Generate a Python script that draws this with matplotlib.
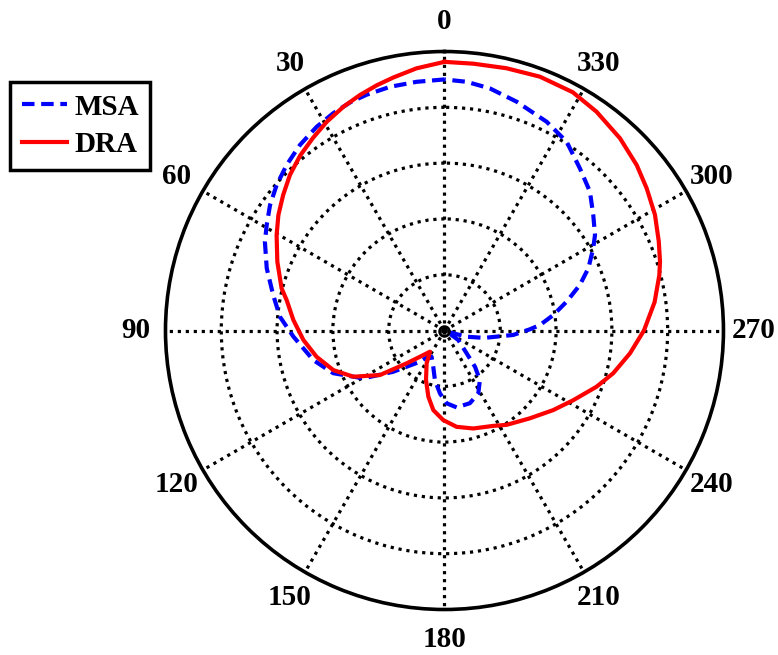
import numpy as np
from matplotlib import pyplot as plt

plt.rcParams['font.family'] = ['Liberation Serif', 'DejaVu Serif']
plt.rcParams['font.weight'] = 'bold'

# Normalised radiation patterns, angle in degrees (0 at top, counterclockwise)
dra_theta = [0, 6.1, 11.5, 15.4, 19.7, 24.3, 29.4, 34.3, 39.5, 44.8, 50.0,
             55.2, 60.4, 67.6, 75.5, 79.1, 86.0, 93.8, 101.6, 109.6, 116.9,
             124.6, 131.0, 136.9, 145.6, 151.5, 159.5, 166.3, 172.0, 179.2,
             187.2, 196.4, 207.1, 213.4, 224.2, 233.8, 241.6, 249.7, 255.8,
             263.0, 270.0, 277.7, 284.4, 287.7, 292.6, 298.8, 305.1, 310.7,
             317.6, 325.2, 331.7, 339.4, 346.7, 353.8, 360]
dra_r = [0.963, 0.945, 0.925, 0.912, 0.897, 0.880, 0.859, 0.836, 0.813, 0.786,
         0.755, 0.725, 0.692, 0.648, 0.603, 0.576, 0.543, 0.507, 0.468, 0.423,
         0.366, 0.281, 0.179, 0.129, 0.092, 0.134, 0.189, 0.244, 0.288, 0.321,
         0.348, 0.366, 0.384, 0.405, 0.439, 0.483, 0.525, 0.581, 0.624, 0.670,
         0.715, 0.760, 0.795, 0.811, 0.832, 0.861, 0.886, 0.909, 0.933, 0.955,
         0.970, 0.972, 0.966, 0.962, 0.963]

msa_theta = [0, 6.4, 12.6, 18.3, 22.4, 27.1, 32.1, 37.9, 43.6, 49.1, 54.3,
             59.3, 63.7, 70.7, 78.3, 85.2, 92.3, 102.7, 111.0, 120.5, 128.8,
             141.9, 148.0, 154.0, 162.8, 169.1, 175.9, 181.7, 189.0, 199.3,
             208.3, 215.6, 220.1, 224.2, 235.5, 245.0, 254.4, 259.5, 266.3,
             270.8, 273.3, 278.1, 283.3, 288.6, 293.4, 298.9, 302.4, 307.8,
             313.7, 320.1, 327.1, 333.9, 342.5, 349.4, 354.9, 360]
msa_r = [0.900, 0.897, 0.895, 0.890, 0.885, 0.875, 0.862, 0.843, 0.820, 0.796,
         0.770, 0.741, 0.718, 0.675, 0.627, 0.592, 0.542, 0.482, 0.427, 0.338,
         0.236, 0.142, 0.110, 0.105, 0.136, 0.181, 0.226, 0.261, 0.279, 0.276,
         0.256, 0.218, 0.170, 0.114, 0.060, 0.010, 0.083, 0.145, 0.247, 0.306,
         0.343, 0.394, 0.450, 0.512, 0.562, 0.609, 0.639, 0.675, 0.721, 0.757,
         0.806, 0.833, 0.860, 0.883, 0.895, 0.900]

angle_ticks = list(range(0, 360, 30))
angle_labels = [str(a) for a in angle_ticks]
ring_ticks = [0.2, 0.4, 0.6, 0.8]

fig = plt.figure(figsize=(7.78, 6.55), dpi=100)
ax = fig.add_axes([0.2127, 0.0694, 0.7172, 0.852], projection='polar')
ax.set_theta_zero_location('N')
ax.set_theta_direction(1)
ax.set_rlim(0, 1)

ax.plot(np.deg2rad(msa_theta), msa_r, color='#0000ff', lw=3,
        linestyle=(0, (3, 1.6)), label='MSA')
ax.plot(np.deg2rad(dra_theta), dra_r, color='#ff0000', lw=3, label='DRA')
# small ring at the origin, as in the original plot
ax.plot([0], [0], 'o', mfc='none', mec='black', ms=7, mew=2)

ax.set_thetagrids(angle_ticks, angle_labels)
ax.set_rticks(ring_ticks)
ax.set_yticklabels([])
ax.grid(True, color='black', linestyle=(0, (1, 1.5)), linewidth=2.3)
ax.spines['polar'].set_linewidth(2.6)
ax.tick_params(axis='x', pad=11, labelsize=21)
for lab in ax.get_xticklabels():
    lab.set_fontweight('bold')

leg = fig.legend(loc='upper left', bbox_to_anchor=(0.0129, 0.8748),
                 borderaxespad=0, fancybox=False,
                 handlelength=1.55, handletextpad=0.25, borderpad=0.4,
                 labelspacing=0.35, prop={'weight': 'bold', 'size': 21})
leg.get_frame().set_edgecolor('black')
leg.get_frame().set_linewidth(2.5)
leg.get_frame().set_alpha(1)

plt.savefig('out.png', dpi=100)
